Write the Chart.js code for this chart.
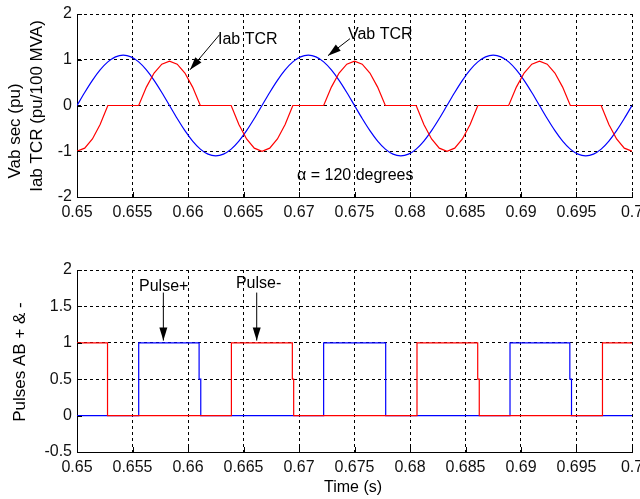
<!DOCTYPE html>
<html>
<head>
<meta charset="utf-8">
<script src="https://cdn.jsdelivr.net/npm/chart.js@4/dist/chart.umd.min.js"></script>
<style>
body { margin: 0; background: #fff; width: 640px; height: 499px; overflow: hidden; position: relative; }
canvas { position: absolute; left: 0; }
#topChart { top: 0; }
#botChart { top: 240px; }
</style>
</head>
<body>
<canvas id="topChart" width="640" height="240"></canvas>
<canvas id="botChart" width="640" height="259"></canvas>
<script>
// time samples (s), every 15 degrees of a 60 Hz cycle
const tcrTime = [
  0.650000, 0.650694, 0.651389, 0.652083, 0.652778, 0.653472, 0.654167, 0.654861,
  0.655556, 0.656250, 0.656944, 0.657639, 0.658333, 0.659028, 0.659722, 0.660417,
  0.661111, 0.661806, 0.662500, 0.663194, 0.663889, 0.664583, 0.665278, 0.665972,
  0.666667, 0.667361, 0.668056, 0.668750, 0.669444, 0.670139, 0.670833, 0.671528,
  0.672222, 0.672917, 0.673611, 0.674306, 0.675000, 0.675694, 0.676389, 0.677083,
  0.677778, 0.678472, 0.679167, 0.679861, 0.680556, 0.681250, 0.681944, 0.682639,
  0.683333, 0.684028, 0.684722, 0.685417, 0.686111, 0.686806, 0.687500, 0.688194,
  0.688889, 0.689583, 0.690278, 0.690972, 0.691667, 0.692361, 0.693056, 0.693750,
  0.694444, 0.695139, 0.695833, 0.696528, 0.697222, 0.697917, 0.698611, 0.699306,
  0.700000
];
// Vab sec (pu)
const vabSec = [
  0, 0.285, 0.55, 0.778, 0.953, 1.063, 1.1, 1.063, 0.953, 0.778, 0.55, 0.285,
  0, -0.285, -0.55, -0.778, -0.953, -1.063, -1.1, -1.063, -0.953, -0.778, -0.55, -0.285,
  0, 0.285, 0.55, 0.778, 0.953, 1.063, 1.1, 1.063, 0.953, 0.778, 0.55, 0.285,
  0, -0.285, -0.55, -0.778, -0.953, -1.063, -1.1, -1.063, -0.953, -0.778, -0.55, -0.285,
  0, 0.285, 0.55, 0.778, 0.953, 1.063, 1.1, 1.063, 0.953, 0.778, 0.55, 0.285,
  0, -0.285, -0.55, -0.778, -0.953, -1.063, -1.1, -1.063, -0.953, -0.778, -0.55, -0.285,
  0
];
// Iab TCR (pu/100 MVA)
const iabTcr = [
  -1, -0.932, -0.732, -0.414, 0, 0, 0, 0, 0, 0.402, 0.71, 0.904,
  0.97, 0.904, 0.71, 0.402, 0, 0, 0, 0, 0, -0.414, -0.732, -0.932,
  -1, -0.932, -0.732, -0.414, 0, 0, 0, 0, 0, 0.402, 0.71, 0.904,
  0.97, 0.904, 0.71, 0.402, 0, 0, 0, 0, 0, -0.414, -0.732, -0.932,
  -1, -0.932, -0.732, -0.414, 0, 0, 0, 0, 0, 0.402, 0.71, 0.904,
  0.97, 0.904, 0.71, 0.402, 0, 0, 0, 0, 0, -0.414, -0.732, -0.932,
  -1
];

// firing pulses: value holds from each time until the next one
const pulsePlusTime = [0.65, 0.65556, 0.661, 0.66115, 0.67222, 0.67781, 0.68901, 0.6944, 0.69455, 0.7];
const pulsePlusVal  = [0,    1,       0.5,   0,       1,       0,       1,       0.5,    0,       0];
const pulseMinusTime = [0.65, 0.65275, 0.66391, 0.6694, 0.66952, 0.68063, 0.6861, 0.68624, 0.69734, 0.7];
const pulseMinusVal  = [1,    0,       1,       0.5,    0,       1,       0.5,    0,       1,       1];

const xTicks = [0.65, 0.655, 0.66, 0.665, 0.67, 0.675, 0.68, 0.685, 0.69, 0.695, 0.7];
const yTicksTop = [-2, -1, 0, 1, 2];
const yTicksBot = [-0.5, 0, 0.5, 1, 1.5, 2];

const FAM = "'Liberation Sans', Arial, Helvetica, sans-serif";
Chart.defaults.font.family = FAM;
Chart.defaults.color = '#000';

const pts = (xs, ys) => xs.map((x, i) => ({x: x, y: ys[i]}));

function arrow(ctx, x1, y1, x2, y2) {
  const a = Math.atan2(y2 - y1, x2 - x1), len = 13, w = 4;
  ctx.beginPath(); ctx.moveTo(x1, y1); ctx.lineTo(x2, y2); ctx.stroke();
  const bx = x2 - len * Math.cos(a), by = y2 - len * Math.sin(a);
  ctx.beginPath();
  ctx.moveTo(x2, y2);
  ctx.lineTo(bx + w * Math.sin(a), by - w * Math.cos(a));
  ctx.lineTo(bx - w * Math.sin(a), by + w * Math.cos(a));
  ctx.closePath(); ctx.fill();
}

// text, arrows and matlab-style inward ticks
function notesPlugin(notes, titles) {
  return {
    id: 'notes',
    afterDraw(chart) {
      const {ctx, chartArea: a} = chart;
      const x = chart.scales.x, y = chart.scales.y;
      ctx.save();
      ctx.strokeStyle = '#000'; ctx.fillStyle = '#000'; ctx.lineWidth = 1;
      x.ticks.forEach(t => {
        const px = Math.round(x.getPixelForValue(t.value)) + 0.5;
        ctx.beginPath(); ctx.moveTo(px, a.bottom); ctx.lineTo(px, a.bottom - 5); ctx.stroke();
      });
      y.ticks.forEach(t => {
        const py = Math.round(y.getPixelForValue(t.value)) + 0.5;
        ctx.beginPath(); ctx.moveTo(a.left, py); ctx.lineTo(a.left + 5, py); ctx.stroke();
      });
      ctx.textBaseline = 'middle';
      ctx.textAlign = 'left';
      ctx.font = '16px ' + FAM;
      notes.forEach(n => {
        if (n.arrow) arrow(ctx, x.getPixelForValue(n.arrow[0]), y.getPixelForValue(n.arrow[1]),
                                x.getPixelForValue(n.arrow[2]), y.getPixelForValue(n.arrow[3]));
        ctx.fillText(n.text, x.getPixelForValue(n.x), y.getPixelForValue(n.y));
      });
      ctx.textAlign = 'center';
      titles.forEach(t => {
        ctx.save();
        ctx.font = t.size + 'px ' + FAM;
        ctx.translate(t.px, t.py);
        if (t.rot) ctx.rotate(-Math.PI / 2);
        ctx.fillText(t.text, 0, 0);
        ctx.restore();
      });
      ctx.restore();
    }
  };
}

function axis(ticks, min, max, isX, size) {
  return {
    type: 'linear', min: min, max: max,
    afterBuildTicks: s => { s.ticks = ticks.map(v => ({value: v})); },
    afterFit: s => {
      if (isX) s.height = size; else s.width = size;
      s.paddingLeft = s.paddingRight = s.paddingTop = s.paddingBottom = 0;
    },
    grid: {color: '#000', lineWidth: 1, drawTicks: false},
    border: {display: true, color: '#000', width: 1, dash: [3, 3]},
    ticks: {
      padding: isX ? 6 : 5, maxRotation: 0, autoSkip: false,
      font: {size: 16}, color: '#111',
      callback: v => String(+v.toFixed(3))
    }
  };
}

function baseOptions(padTop, xHeight, xMin, yMin, yMax, yTicks) {
  return {
    responsive: false,
    animation: false,
    layout: {padding: {top: padTop, right: 8, left: 0, bottom: 0}},
    plugins: {legend: {display: false}, tooltip: {enabled: false}},
    elements: {point: {radius: 0}},
    scales: {
      x: axis(xTicks, 0.65, 0.7, true, xHeight),
      y: axis(yTicks, yMin, yMax, false, 77)
    }
  };
}

new Chart(document.getElementById('topChart'), {
  type: 'line',
  data: {
    datasets: [
      {label: 'Iab TCR', data: pts(tcrTime, iabTcr), borderColor: '#ff0000', borderWidth: 1.2, tension: 0},
      {label: 'Vab sec', data: pts(tcrTime, vabSec), borderColor: '#0000ff', borderWidth: 1.2, cubicInterpolationMode: 'monotone'}
    ]
  },
  options: baseOptions(14, 43, 0.65, -2, 2, yTicksTop),
  plugins: [notesPlugin(
    [
      {text: 'Iab TCR', x: 0.6627, y: 1.44, arrow: [0.66285, 1.55, 0.66018, 0.78]},
      {text: 'Vab TCR', x: 0.67441, y: 1.56, arrow: [0.67459, 1.46, 0.67261, 1.09]},
      {text: '\u03b1 = 120 degrees', x: 0.66982, y: -1.53}
    ],
    [
      {text: 'Vab sec (pu)', px: 15, py: 131, rot: true, size: 17},
      {text: 'Iab TCR (pu/100 MVA)', px: 37, py: 106, rot: true, size: 17}
    ]
  )]
});

new Chart(document.getElementById('botChart'), {
  type: 'line',
  data: {
    datasets: [
      {label: 'Pulse-', data: pts(pulseMinusTime, pulseMinusVal), borderColor: '#ff0000', borderWidth: 1.2, stepped: true},
      {label: 'Pulse+', data: pts(pulsePlusTime, pulsePlusVal), borderColor: '#0000ff', borderWidth: 1.2, stepped: true}
    ]
  },
  options: baseOptions(30, 47, 0.65, -0.5, 2, yTicksBot),
  plugins: [notesPlugin(
    [
      {text: 'Pulse+', x: 0.65559, y: 1.77, arrow: [0.65778, 1.69, 0.65778, 1.03]},
      {text: 'Pulse-', x: 0.66432, y: 1.82, arrow: [0.66619, 1.69, 0.66619, 1.03]}
    ],
    [
      {text: 'Pulses AB + & -', px: 20, py: 122, rot: true, size: 17},
      {text: 'Time (s)', px: 353, py: 248, rot: false, size: 16}
    ]
  )]
});
</script>
</body>
</html>
